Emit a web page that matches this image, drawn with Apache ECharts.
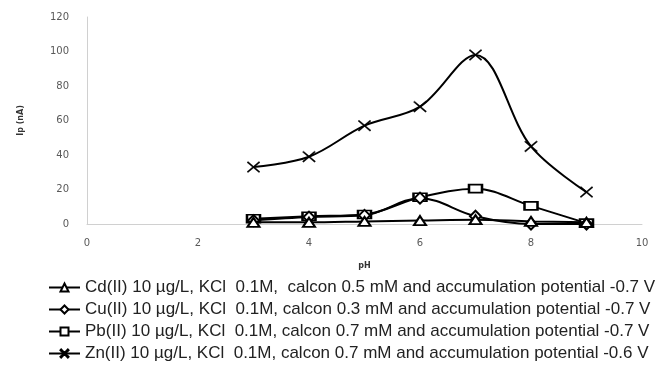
<!DOCTYPE html>
<html><head><meta charset="utf-8">
<script src="https://cdn.jsdelivr.net/npm/echarts@6/dist/echarts.min.js"></script>
<style>html,body{margin:0;padding:0;background:#fff}#c{width:658px;height:370px}</style>
</head><body><div id="c"></div>
<script>
const phValues = [3, 4, 5, 6, 7, 8, 9];
const cdValues = [1, 1, 1.5, 2, 2.5, 1.5, 1];
const cuValues = [2, 4, 5, 15, 4.5, 0, 0];
const pbValues = [3, 4.5, 5.5, 15.5, 20.5, 10.5, 0.5];
const znValues = [33, 39, 57, 68, 98, 45, 18.5];
const seriesNames = [
  'Cd(II) 10 µg/L, KCl  0.1M,  calcon 0.5 mM and accumulation potential -0.7 V',
  'Cu(II) 10 µg/L, KCl  0.1M, calcon 0.3 mM and accumulation potential -0.7 V',
  'Pb(II) 10 µg/L, KCl  0.1M, calcon 0.7 mM and accumulation potential -0.7 V',
  'Zn(II) 10 µg/L, KCl  0.1M, calcon 0.7 mM and accumulation potential -0.6 V'
];
const xTicks = [0, 2, 4, 6, 8, 10];
const yTicks = [0, 20, 40, 60, 80, 100, 120];

const crossPath = 'path://M0,0.8L0.8,0L5,4.2L9.2,0L10,0.8L5.8,5L10,9.2L9.2,10L5,5.8L0.8,10L0,9.2L4.2,5Z';
const symbols = ['triangle', 'diamond', 'rect', crossPath];
const sizes = [[12, 9], [11, 11], [13, 8], [13, 11]];
const allValues = [cdValues, cuValues, pbValues, znValues];

const chart = echarts.init(document.getElementById('c'), null, {renderer: 'canvas'});
const series = allValues.map((vals, i) => ({
  name: seriesNames[i],
  type: 'line',
  smooth: 0.35,
  data: phValues.map((x, j) => [x, vals[j]]),
  symbol: symbols[i],
  symbolSize: sizes[i],
  showAllSymbol: true,
  lineStyle: {color: '#000', width: 2},
  itemStyle: i === 3 ? {color: '#000', borderColor: '#000', borderWidth: 0.4} : {color: '#fff', borderColor: '#000', borderWidth: 2},
  z: 10 - i
}));

chart.setOption({
  animation: false,
  backgroundColor: '#fff',
  grid: {left: 87, right: 16, top: 17, bottom: 146},
  xAxis: {
    type: 'value', min: 0, max: 10, interval: 2,
    name: 'pH', nameLocation: 'middle', nameGap: 38,
    nameTextStyle: {fontFamily: 'DejaVu Sans', fontSize: 8, fontWeight: 'bold', color: '#333'},
    axisLine: {show: true, lineStyle: {color: '#d0d0d0', width: 1}},
    axisTick: {show: false},
    splitLine: {show: false},
    axisLabel: {fontFamily: 'DejaVu Sans', fontSize: 10, color: '#595959', margin: 14}
  },
  yAxis: {
    type: 'value', min: 0, max: 120, interval: 20,
    name: 'Ip (nA)', nameLocation: 'middle', nameGap: 62, nameRotate: 90,
    nameTextStyle: {fontFamily: 'DejaVu Sans', fontSize: 8, fontWeight: 'bold', color: '#333'},
    axisLine: {show: true, lineStyle: {color: '#d0d0d0', width: 1}},
    axisTick: {show: false},
    splitLine: {show: false},
    axisLabel: {fontFamily: 'DejaVu Sans', fontSize: 10, color: '#595959', margin: 18}
  },
  legend: {
    orient: 'vertical', left: 43, top: 274, itemGap: 5,
    itemWidth: 31, itemHeight: 10,
    textStyle: {fontFamily: 'Liberation Sans', fontSize: 17, color: '#222'},
    data: seriesNames
  },
  series: series
});
</script></body></html>
